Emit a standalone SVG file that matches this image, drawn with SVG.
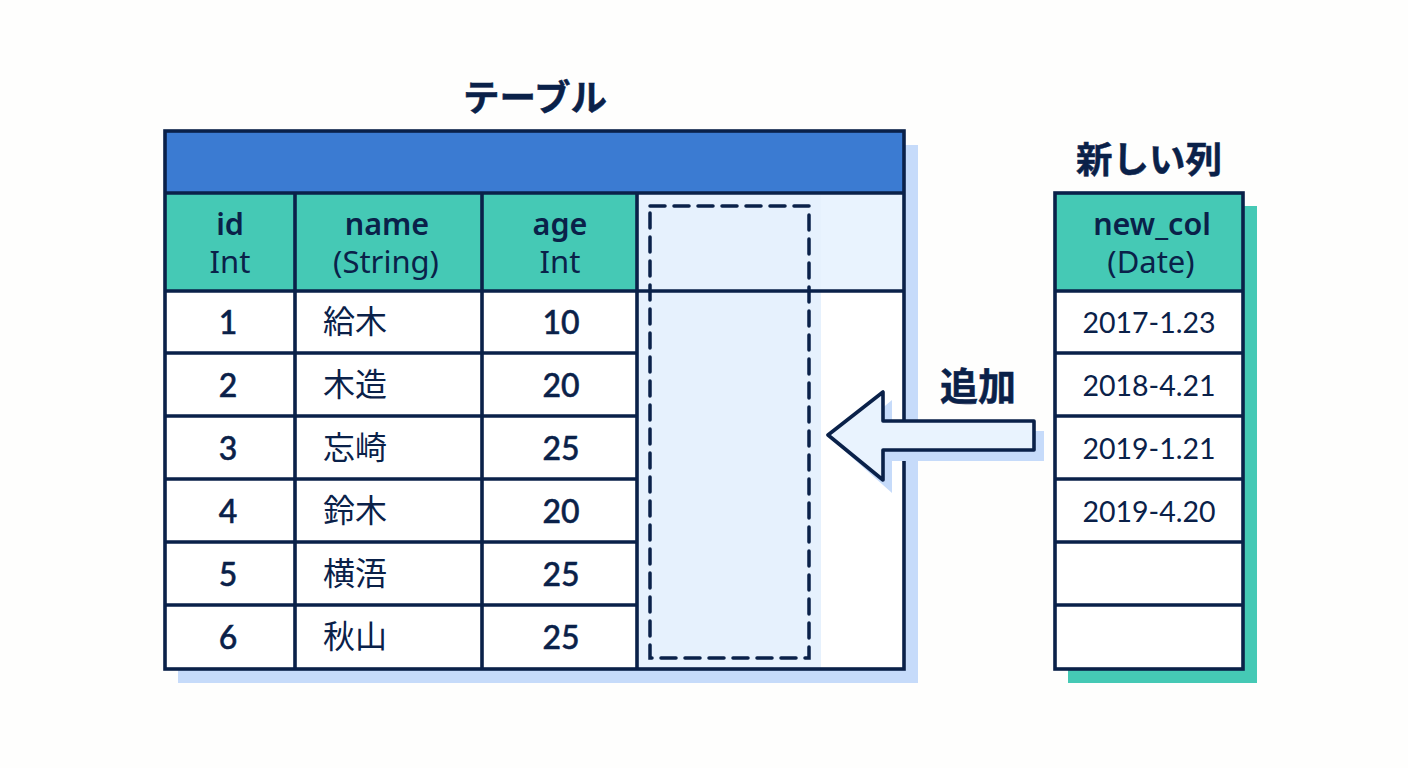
<svg xmlns="http://www.w3.org/2000/svg" width="1408" height="768" viewBox="0 0 1408 768">
<style>
text{font-family:"Noto Sans","Noto Sans CJK JP",sans-serif;fill:#0a2149;text-anchor:middle}
.ln{stroke:#0a2149;stroke-width:3.6;fill:none}
.s{font-size:31px}
.h{font-weight:600;font-size:30.5px}
.t{font-size:32px;font-weight:500;font-family:Lato,sans-serif;stroke:#0a2149;stroke-width:.5}
.j{font-size:32px;text-anchor:start;font-family:"Noto Sans CJK JP",sans-serif;font-weight:400}
.d{font-size:28.5px;font-family:Lato,sans-serif}
.tt{font-size:36.5px;font-weight:700;font-family:"Noto Sans CJK JP",sans-serif;stroke:#0a2149;stroke-width:.5}
</style>
<rect width="1408" height="768" fill="#fefefd"/>
<g id="table">
<rect x="178" y="145" width="740" height="538" fill="#c6dbfa"/>
<rect x="165" y="131" width="739" height="538" fill="#fff"/>
<rect x="165" y="131" width="739" height="62" fill="#3b7bd2"/>
<rect x="165" y="193" width="472" height="98" fill="#45c9b5"/>
<rect x="637" y="193" width="267" height="98" fill="#e9f3fe"/>
<rect x="637" y="193" width="184" height="476" fill="#e6f1fd"/>
<path class="ln" d="M165 193H904M165 291H904M165 353H637M165 416H637M165 479H637M165 542H637M165 605H637M295 193V669M482 193V669M637 193V669"/>
<rect class="ln" x="165" y="131" width="739" height="538"/>
<rect x="650" y="206" width="159" height="452" fill="none" stroke="#0a2149" stroke-width="3.5" stroke-dasharray="15 9" stroke-linecap="round"/>
<text class="tt" x="535" y="111">テーブル</text>
<text class="h" x="230" y="235">id</text><text class="s" x="230" y="273">Int</text>
<text class="h" x="387" y="235">name</text><text class="s" x="386" y="273">(String)</text>
<text class="h" x="560" y="235">age</text><text class="s" x="560" y="273">Int</text>
<text class="t" x="228" y="334">1</text><text class="j" x="323" y="333">給木</text><text class="t" x="561" y="334">10</text>
<text class="t" x="228" y="397">2</text><text class="j" x="323" y="396">木造</text><text class="t" x="561" y="397">20</text>
<text class="t" x="228" y="460">3</text><text class="j" x="323" y="459">忘崎</text><text class="t" x="561" y="460">25</text>
<text class="t" x="228" y="523">4</text><text class="j" x="323" y="522">鈴木</text><text class="t" x="561" y="523">20</text>
<text class="t" x="228" y="586">5</text><text class="j" x="323" y="585">横浯</text><text class="t" x="561" y="586">25</text>
<text class="t" x="228" y="649">6</text><text class="j" x="323" y="648">秋山</text><text class="t" x="561" y="649">25</text>
</g>
<g id="new-column">
<rect x="1068" y="206" width="189" height="477" fill="#45c9b5"/>
<rect x="1055" y="193" width="188" height="476" fill="#fff"/>
<rect x="1055" y="193" width="188" height="98" fill="#45c9b5"/>
<path class="ln" d="M1055 291H1243M1055 353H1243M1055 416H1243M1055 479H1243M1055 542H1243M1055 605H1243"/>
<rect class="ln" x="1055" y="193" width="188" height="476"/>
<text class="tt" x="1149" y="173">新しい列</text>
<text class="h" x="1152" y="235">new_col</text><text class="s" x="1151" y="273">(Date)</text>
<text class="d" x="1149" y="333">2017-1.23</text>
<text class="d" x="1149" y="396">2018-4.21</text>
<text class="d" x="1149" y="459">2019-1.21</text>
<text class="d" x="1149" y="522">2019-4.20</text>
</g>
<g id="connectors">
<path d="M892 400V431H1044V461H892V493L838 445Z" fill="#c6dbfa"/>
<path d="M828 435L883 392V421H1034V450H883V480Z" fill="#e9f3fe" stroke="#0a2149" stroke-width="3.6" stroke-linejoin="round"/>
<text class="tt" x="978" y="400" style="font-size:38px">追加</text>
</g>
</svg>
